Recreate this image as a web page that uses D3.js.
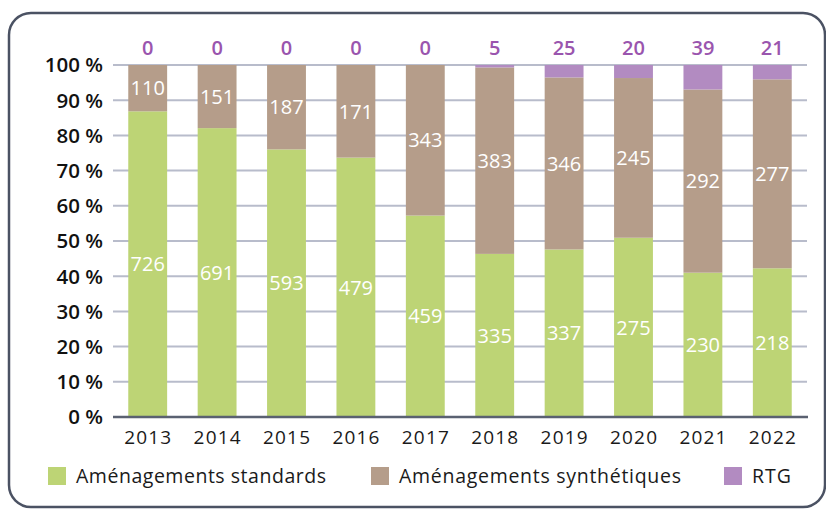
<!DOCTYPE html>
<html>
<head>
<meta charset="utf-8">
<script src="https://cdn.jsdelivr.net/npm/d3@7"></script>
<style>
  html, body { margin: 0; padding: 0; background: #fff; }
  svg { display: block; }
  text { font-family: "Open Sans", "Noto Sans", sans-serif; }
</style>
</head>
<body>
<svg id="chart" width="826" height="510"></svg>
<script>
// Nombre d'aménagements par année et par type
const years = ["2013", "2014", "2015", "2016", "2017", "2018", "2019", "2020", "2021", "2022"];
const standards = [726, 691, 593, 479, 459, 335, 337, 275, 230, 218];
const synthetiques = [110, 151, 187, 171, 343, 383, 346, 245, 292, 277];
const rtg = [0, 0, 0, 0, 0, 5, 25, 20, 39, 21];
const yTicks = [0, 10, 20, 30, 40, 50, 60, 70, 80, 90, 100];
const seriesNames = ["Aménagements standards", "Aménagements synthétiques", "RTG"];
const seriesColors = ["#bdd475", "#b59d8a", "#b28bc1"];

const svg = d3.select("#chart");

// Cadre arrondi
svg.append("rect")
  .attr("x", 9).attr("y", 13)
  .attr("width", 816).attr("height", 494)
  .attr("rx", 22).attr("ry", 22)
  .attr("fill", "none")
  .attr("stroke", "#4b5263")
  .attr("stroke-width", 2.5);

const plot = { left: 113, right: 807, top: 65, bottom: 417 };

const x = d3.scaleBand()
  .domain(years)
  .range([plot.left, plot.right])
  .paddingInner(0.44)
  .paddingOuter(0.22);

const y = d3.scaleLinear()
  .domain([0, 100])
  .range([plot.bottom, plot.top]);

// Lignes de grille
svg.append("g")
  .selectAll("line")
  .data(yTicks.filter(t => t > 0))
  .join("line")
  .attr("x1", plot.left).attr("x2", plot.right)
  .attr("y1", d => y(d)).attr("y2", d => y(d))
  .attr("stroke", "#b8bccb")
  .attr("stroke-width", 2);

// Étiquettes de l'axe vertical
svg.append("g")
  .selectAll("text")
  .data(yTicks)
  .join("text")
  .attr("x", 103)
  .attr("y", d => y(d))
  .attr("dy", "0.36em")
  .attr("text-anchor", "end")
  .attr("font-size", 20.5)
  .attr("font-weight", 600)
  .attr("fill", "#111")
  .text(d => d + " %");

// Données empilées en pourcentage
const rows = years.map((yr, i) => {
  const total = standards[i] + synthetiques[i] + rtg[i];
  return { year: yr, values: [standards[i], synthetiques[i], rtg[i]], total };
});

const segments = [];
rows.forEach(r => {
  let acc = 0;
  r.values.forEach((v, k) => {
    const p0 = acc / r.total * 100;
    acc += v;
    const p1 = acc / r.total * 100;
    segments.push({ year: r.year, k, v, p0, p1 });
  });
});

svg.append("g")
  .selectAll("rect")
  .data(segments.filter(s => s.v > 0))
  .join("rect")
  .attr("x", d => x(d.year))
  .attr("width", x.bandwidth())
  .attr("y", d => y(d.p1))
  .attr("height", d => y(d.p0) - y(d.p1))
  .attr("fill", d => seriesColors[d.k]);

// Axe horizontal (0 %)
svg.append("line")
  .attr("x1", plot.left).attr("x2", plot.right + 1)
  .attr("y1", y(0)).attr("y2", y(0))
  .attr("stroke", "#5a6171")
  .attr("stroke-width", 2.5);

// Valeurs dans les barres
svg.append("g")
  .selectAll("text")
  .data(segments.filter(s => s.k < 2))
  .join("text")
  .attr("x", d => x(d.year) + x.bandwidth() / 2)
  .attr("y", d => (y(d.p0) + y(d.p1)) / 2)
  .attr("dy", "0.36em")
  .attr("text-anchor", "middle")
  .attr("font-size", 20)
  .attr("font-weight", 500)
  .attr("fill", "#fff")
  .text(d => d.v);

// Valeurs RTG au-dessus des barres
svg.append("g")
  .selectAll("text")
  .data(segments.filter(s => s.k === 2))
  .join("text")
  .attr("x", d => x(d.year) + x.bandwidth() / 2)
  .attr("y", 48)
  .attr("dy", "0.36em")
  .attr("text-anchor", "middle")
  .attr("font-size", 20)
  .attr("font-weight", 600)
  .attr("fill", "#9a55ae")
  .text(d => d.v);

// Années
svg.append("g")
  .selectAll("text")
  .data(years)
  .join("text")
  .attr("x", d => x(d) + x.bandwidth() / 2)
  .attr("y", 437)
  .attr("dy", "0.36em")
  .attr("text-anchor", "middle")
  .attr("font-size", 19)
  .attr("fill", "#1a1a1a")
  .attr("textLength", 47)
  .attr("lengthAdjust", "spacing")
  .text(d => d);

// Légende
const legendX = [48, 371, 724];
const legendLen = [250, 282, 39];
const legend = svg.append("g")
  .selectAll("g")
  .data(seriesNames)
  .join("g")
  .attr("transform", (d, i) => `translate(${legendX[i]},467)`);

legend.append("rect")
  .attr("width", 18).attr("height", 18)
  .attr("fill", (d, i) => seriesColors[i]);

legend.append("text")
  .attr("x", 28)
  .attr("y", 9)
  .attr("dy", "0.36em")
  .attr("font-size", 19.5)
  .attr("fill", "#1a1a1a")
  .attr("textLength", (d, i) => legendLen[i])
  .attr("lengthAdjust", "spacing")
  .text(d => d);
</script>
</body>
</html>
